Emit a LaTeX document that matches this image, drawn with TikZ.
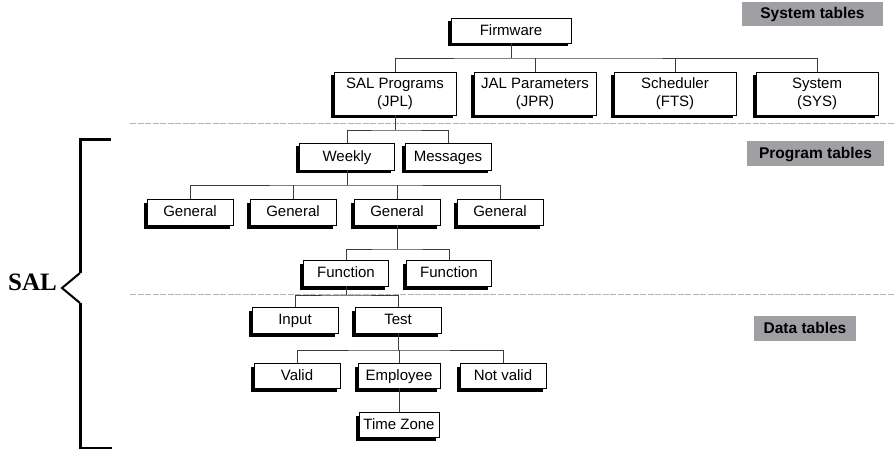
\documentclass[tikz,border=0pt]{standalone}
\usepackage{fontspec}
\setmainfont{Liberation Sans}
\newfontfamily\salserif{Liberation Serif}
\usetikzlibrary{shadows}
\definecolor{taggray}{RGB}{160,160,164}
\definecolor{linegray}{RGB}{60,60,60}
\definecolor{sepgray}{RGB}{180,180,180}
\begin{document}
\begin{tikzpicture}[x=1pt,y=-1pt,
  box/.style={draw=black, fill=white, line width=0.7pt,
    drop shadow={shadow xshift=-3.5pt, shadow yshift=-3.5pt, fill=black, opacity=1},
    font=\fontsize{15}{18}\selectfont, align=center, inner sep=0pt},
  one/.style={text height=10.8pt, text depth=1.2pt},
  wide/.style={box, minimum width=122pt, minimum height=43pt},
  small/.style={box, one, minimum width=86pt, minimum height=26pt},
  tag/.style={fill=taggray, inner sep=0pt, text height=11.5pt, text depth=1.5pt, font=\bfseries\fontsize{15.5}{18}\selectfont},
  conn/.style={draw=linegray, line width=0.8pt},
  sep/.style={draw=sepgray, line width=1pt, dash pattern=on 6pt off 1.5pt},
  brk/.style={draw=black, line width=3pt},
  chev/.style={draw=black, line width=2pt}]
\useasboundingbox (0,0) rectangle (896,449);

% tags
\node[tag, minimum width=141pt, minimum height=24pt] (tsys) at (812.5,14) {System tables};
\node[tag, minimum width=137pt, minimum height=25pt] (tprog) at (815.5,153.5) {Program tables};
\node[tag, minimum width=102pt, minimum height=25pt] (tdata) at (805,328.5) {Data tables};

% separators
\coordinate (s1a) at (130,124); \coordinate (s1b) at (895,124);
\coordinate (s2a) at (130,294.5); \coordinate (s2b) at (895,294.5);
\draw[sep] (s1a) -- (s1b);
\draw[sep] (s2a) -- (s2b);

% nodes
\node[box, one, minimum width=120pt, minimum height=25pt] (fw) at (511,30.5) {Firmware};
\node[wide] (sal) at (395,93.5) {SAL Programs\\(JPL)};
\node[wide] (jal) at (535,93.5) {JAL Parameters\\(JPR)};
\node[wide] (sch) at (675,93.5) {Scheduler\\(FTS)};
\node[wide] (sys) at (817,93.5) {System\\(SYS)};

\node[box, one, minimum width=95pt, minimum height=27pt] (wk) at (347,156.5) {Weekly};
\node[box, one, minimum width=86pt, minimum height=27pt] (msg) at (448,156.5) {Messages};

\node[small] (g1) at (190,212) {General};
\node[small] (g2) at (293,212) {General};
\node[small] (g3) at (397,212) {General};
\node[small] (g4) at (500,212) {General};

\node[small, minimum width=85pt] (f1) at (346,273) {Function};
\node[small, minimum width=85pt] (f2) at (449,273) {Function};

\node[small] (in) at (295,320) {Input};
\node[small] (te) at (398,320) {Test};

\node[small, minimum height=25pt] (va) at (297,375.5) {Valid};
\node[small, minimum width=82pt, minimum height=25pt] (em) at (399,375.5) {Employee};
\node[small, minimum height=25pt] (nv) at (503,375.5) {Not valid};

\node[box, one, minimum width=80pt, minimum height=25pt] (tz) at (399,424.5) {Time Zone};

% connectors
\coordinate (j1) at (511,58);
\draw[conn] (fw.south) -- (j1);
\draw[conn] (sal.north) |- (j1) -| (sys.north);
\draw[conn] (jal.north) -- (jal.north |- j1);
\draw[conn] (sch.north) -- (sch.north |- j1);

\coordinate (j2) at (395,130);
\draw[conn] (sal.south) -- (j2);
\draw[conn] (wk.north) |- (j2) -| (msg.north);

\coordinate (j3) at (347,185);
\draw[conn] (wk.south) -- (j3);
\draw[conn] (g1.north) |- (j3) -| (g4.north);
\draw[conn] (g2.north) -- (g2.north |- j3);
\draw[conn] (g3.north) -- (g3.north |- j3);

\coordinate (j4) at (397,249);
\draw[conn] (g3.south) -- (j4);
\draw[conn] (f1.north) |- (j4) -| (f2.north);

\coordinate (j5) at (346,295);
\draw[conn] (f1.south) -- (j5);
\draw[conn] (in.north) |- (j5) -| (te.north);

\coordinate (j6) at (398,350);
\draw[conn] (te.south) -- (j6);
\draw[conn] (va.north) |- (j6) -| (nv.north);
\draw[conn] (em.north) -- (em.north |- j6);

\draw[conn] (em.south) -- (tz.north);

% bracket
\coordinate (b1) at (111,140);
\coordinate (b2) at (80,140);
\coordinate (b3) at (80,273);
\coordinate (b4) at (62,288);
\coordinate (b5) at (80,303);
\coordinate (b6) at (80,448);
\coordinate (b7) at (112,448);
\draw[brk] (b1) -- (b2) -- (b3);
\draw[chev, line join=miter] (b3) -- (b4) -- (b5);
\draw[brk] (b5) -- (b6) -- (b7);
\node[font=\salserif\bfseries\fontsize{25}{30}\selectfont, inner sep=0pt] (saltxt) at (32.5,282) {SAL};
\end{tikzpicture}
\end{document}
